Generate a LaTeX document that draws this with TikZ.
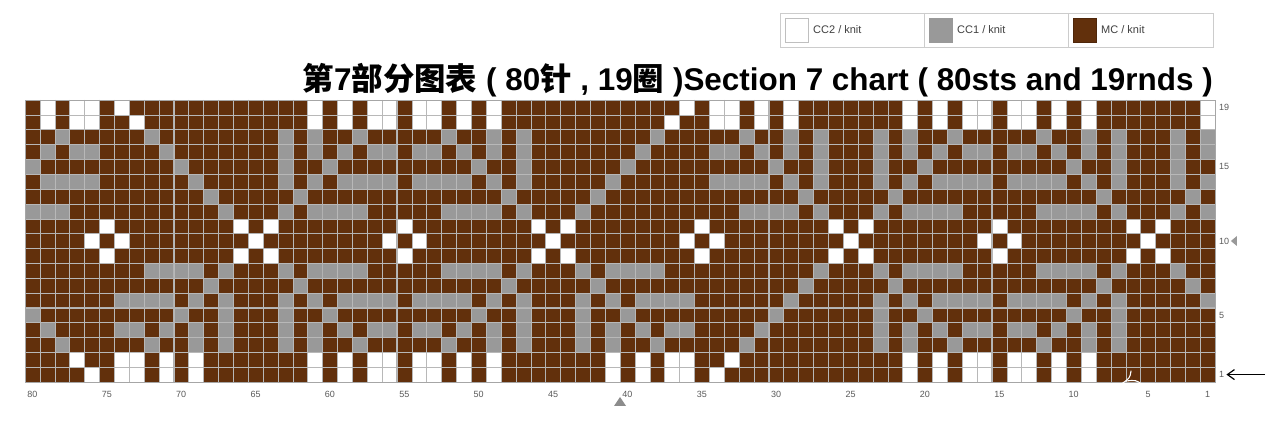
\documentclass[tikz,border=0pt]{standalone}
\usepackage{fontspec}
\setmainfont{Liberation Sans}
\newfontfamily\cjk{Noto Sans CJK SC}
\usetikzlibrary{arrows.meta}
\definecolor{mc}{HTML}{62300C}
\definecolor{ccone}{HTML}{999999}
\definecolor{cctwo}{HTML}{FFFFFF}
\definecolor{lbl}{HTML}{5A5A5A}
\colorlet{col0}{mc}\colorlet{col1}{ccone}\colorlet{col2}{cctwo}
\begin{document}
\begin{tikzpicture}[x=1pt,y=-1pt,
  gridline/.style={line width=0.45pt, draw=black!28},
  majorline/.style={line width=0.9pt, draw=black!30},
  border/.style={line width=0.9pt, draw=black!35},
  lab/.style={font=\fontsize{9}{10}\selectfont, text=lbl, inner sep=0pt},
  legtext/.style={font=\fontsize{11}{12}\selectfont, text=black!75, anchor=west, inner sep=0pt},
  swatch/.style={minimum width=23pt, minimum height=24pt, inner sep=0pt, draw=black!25, line width=0.6pt},
]
\useasboundingbox (0,0) rectangle (1286,443);
\fill[white] (0,0) rectangle (1286,443);
\def\cw{14.875}\def\ch{14.842}
% ---- chart cells ----
\foreach \r in {1,...,19}{
 \foreach \c in {1,...,80}{
  \pgfmathtruncatemacro\myR{\r>9 ? \r : 20-\r}
  \pgfmathtruncatemacro\myM{mod(\c+85,20)}
  \pgfmathtruncatemacro\myA{min(\myM,20-\myM)}
  \pgfmathtruncatemacro\myI{(\myR-10)*11+\myA}
  \pgfmathtruncatemacro\myK{{0,2,0,0,0,0,0,0,0,0,2,
                             2,0,0,0,0,0,0,0,0,2,0,
                             0,0,0,1,1,1,1,0,1,0,0,
                             0,0,0,0,0,0,0,1,0,0,0,
                             0,1,1,1,1,0,1,0,1,0,0,
                             0,0,0,0,0,1,0,0,1,0,0,
                             0,1,1,0,1,0,1,0,1,0,0,
                             0,0,0,1,0,0,1,0,1,0,0,
                             0,2,2,0,2,0,2,0,0,0,0,
                             0,2,2,0,2,0,2,0,0,0,0}[\myI]}
  \pgfmathtruncatemacro\cU{(\r>11)*((\c>65)*(\c<75)+(\c>35)*(\c<45))}
  \pgfmathtruncatemacro\cL{(\r<9)*((\c>25)*(\c<35)+(\c>75)+(\c<5))}
  \pgfmathtruncatemacro\dU{(\c==55+\r)+(\c==55-\r)}
  \pgfmathtruncatemacro\dL{(\c==35-\r)+(\c==mod(\r+74,80)+1)}
  \pgfmathtruncatemacro\myK{\cU>0 ? (\dU>0 ? (\r<18 ? 1 : 2) : 0) : (\cL>0 ? (\dL>0 ? (\r>2 ? 1 : 2) : 0) : \myK)}
  \fill[col\myK] ({25+(80-\c)*\cw-0.1},{100+(19-\r)*\ch-0.1}) rectangle ++({\cw+0.2},{\ch+0.2});
 }
}
% ---- grid ----
\foreach \j in {1,...,79} \draw[gridline] ({25+\j*\cw},100) -- ({25+\j*\cw},382);
\foreach \i in {1,...,18} \draw[gridline] (25,{100+\i*\ch}) -- (1215,{100+\i*\ch});
\foreach \j in {5,10,...,75} \draw[majorline] ({25+\j*\cw},100) -- ({25+\j*\cw},382);
\foreach \i in {4,9,14} \draw[majorline] (25,{100+\i*\ch}) -- (1215,{100+\i*\ch});
\draw[border] (25,100) rectangle (1215,382);
% white scratch mark near the bottom right
\draw[white, line width=1.1pt, line cap=round] (1131,371) .. controls (1130,378) .. (1120,385);
\draw[white, line width=1.1pt, line cap=round] (1126,381) .. controls (1136,380) .. (1143,385);
% ---- bottom labels ----
\foreach \c in {80,75,...,5,1}
  \node[lab] (b\c) at ({25+(80-\c+0.5)*\cw},394) {\c};
\fill[black!45] (614,406) -- (626,406) -- (620,397) -- cycle;
% ---- right labels ----
\node[lab,anchor=west] (r19) at (1219,{100+0.5*\ch}) {19};
\node[lab,anchor=west] (r15) at (1219,{100+4.5*\ch}) {15};
\node[lab,anchor=west] (r10) at (1219,{100+9.5*\ch}) {10};
\node[lab,anchor=west] (r5) at (1219,{100+14.5*\ch}) {5};
\node[lab,anchor=west] (r1) at (1219,{100+18.5*\ch}) {1};
\fill[black!40] (r10.east) ++(1.5,0) -- ++(6,-5) -- ++(0,10) -- cycle;
\coordinate (arrowstart) at (1265,{100+18.5*\ch});
\draw[line width=1.2pt, -{Straight Barb[length=7pt,width=10pt]}] (arrowstart) -- ([xshift=2pt]r1.east);
% ---- legend ----
\draw[black!20, line width=0.8pt] (780,13) rectangle (1213,47);
\draw[black!20, line width=0.8pt] (924,13) -- (924,47);
\draw[black!20, line width=0.8pt] (1068,13) -- (1068,47);
\node[swatch, fill=cctwo] (sw2) at (796.5,30) {};
\node[swatch, fill=ccone, draw=ccone] (sw1) at (940.5,30) {};
\node[swatch, fill=mc, draw=mc!80!black] (sw0) at (1084.5,30) {};
\node[legtext] (lt2) at (813,30) {CC2 / knit};
\node[legtext] (lt1) at (957,30) {CC1 / knit};
\node[legtext] (lt0) at (1101,30) {MC / knit};
% ---- title ----
\node[anchor=east, inner sep=0pt] (title) at (1213,80)
  {\resizebox{910pt}{!}{\fontsize{32}{36}\selectfont\bfseries{\cjk 第}7{\cjk 部分图表} ( 80{\cjk 针} , 19{\cjk 圈} )Section 7 chart ( 80sts and 19rnds )}};
\end{tikzpicture}
\end{document}
